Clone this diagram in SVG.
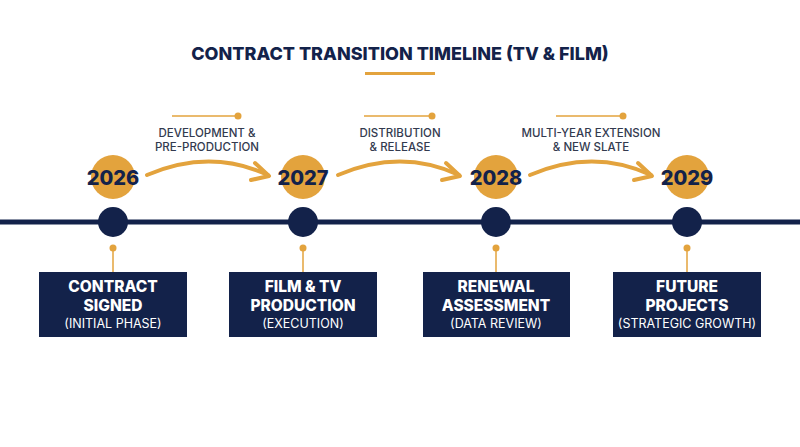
<svg xmlns="http://www.w3.org/2000/svg" width="800" height="447" viewBox="0 0 800 447">
<style>
.t{font-family:Inter,"Open Sans","Liberation Sans",sans-serif}
.title{font-size:18px;font-weight:800;fill:#13224a}
.year{font-size:20px;font-weight:800;fill:#13224a}
.lbl{font-size:11.5px;font-weight:500;fill:#333a4f}
.bt{font-size:15.5px;font-weight:800;fill:#ffffff}
.bs{font-size:12.5px;font-weight:400;fill:#ffffff}
.box{fill:#13224a}
.gold{fill:#e3a33d}
.navy{fill:#13224a}
.arc{fill:none;stroke:#e3a33d;stroke-width:4;stroke-linecap:round;stroke-linejoin:round}
.thin{stroke:#e3a33d;stroke-width:1.5}
</style>
<rect width="800" height="447" fill="#ffffff"/>
<g id="title">
<text class="t title" x="400" y="60" text-anchor="middle">CONTRACT TRANSITION TIMELINE (TV &amp; FILM)</text>
<line x1="365" y1="73.5" x2="435" y2="73.5" stroke="#e3a33d" stroke-width="3"/>
</g>
<g id="connectors">
<line x1="0" y1="222" x2="800" y2="222" stroke="#13224a" stroke-width="5"/>
<path class="arc" d="M147,175 Q210,148 268,175"/>
<path class="arc" d="M255,163 L269,176 L251,180"/>
<path class="arc" d="M338,175 Q401,148 459,175"/>
<path class="arc" d="M446,163 L460,176 L442,180"/>
<path class="arc" d="M530,175 Q593,148 651,175"/>
<path class="arc" d="M638,163 L652,176 L634,180"/>
<line class="thin" x1="113" y1="248" x2="113" y2="272"/>
<line class="thin" x1="303" y1="248" x2="303" y2="272"/>
<line class="thin" x1="496" y1="248" x2="496" y2="272"/>
<line class="thin" x1="687" y1="248" x2="687" y2="272"/>
</g>
<g id="label1">
<line class="thin" x1="172" y1="116" x2="238" y2="116"/>
<circle class="gold" cx="238" cy="116" r="3.5"/>
<text class="t lbl" x="207" y="137" text-anchor="middle">DEVELOPMENT &amp;</text>
<text class="t lbl" x="207" y="151" text-anchor="middle">PRE-PRODUCTION</text>
</g>
<g id="label2">
<line class="thin" x1="364" y1="116" x2="432" y2="116"/>
<circle class="gold" cx="432" cy="116" r="3.5"/>
<text class="t lbl" x="400" y="137" text-anchor="middle">DISTRIBUTION</text>
<text class="t lbl" x="400" y="151" text-anchor="middle">&amp; RELEASE</text>
</g>
<g id="label3">
<line class="thin" x1="556" y1="116" x2="623" y2="116"/>
<circle class="gold" cx="623" cy="116" r="3.5"/>
<text class="t lbl" x="591" y="137" text-anchor="middle">MULTI-YEAR EXTENSION</text>
<text class="t lbl" x="591" y="151" text-anchor="middle">&amp; NEW SLATE</text>
</g>
<g id="node2026">
<circle class="gold" cx="113" cy="177" r="22"/>
<text class="t year" x="113" y="184.5" text-anchor="middle">2026</text>
<circle class="navy" cx="113" cy="222" r="15"/>
<circle class="gold" cx="113" cy="248" r="3.5"/>
<rect class="box" x="39" y="272" width="148" height="65"/>
<text class="t bt" x="113" y="292" text-anchor="middle">CONTRACT</text>
<text class="t bt" x="113" y="310.5" text-anchor="middle">SIGNED</text>
<text class="t bs" x="113" y="327.5" text-anchor="middle">(INITIAL PHASE)</text>
</g>
<g id="node2027">
<circle class="gold" cx="303" cy="177" r="22"/>
<text class="t year" x="303" y="184.5" text-anchor="middle">2027</text>
<circle class="navy" cx="303" cy="222" r="15"/>
<circle class="gold" cx="303" cy="248" r="3.5"/>
<rect class="box" x="229" y="272" width="148" height="65"/>
<text class="t bt" x="303" y="292" text-anchor="middle">FILM &amp; TV</text>
<text class="t bt" x="303" y="310.5" text-anchor="middle">PRODUCTION</text>
<text class="t bs" x="303" y="327.5" text-anchor="middle">(EXECUTION)</text>
</g>
<g id="node2028">
<circle class="gold" cx="496" cy="177" r="22"/>
<text class="t year" x="496" y="184.5" text-anchor="middle">2028</text>
<circle class="navy" cx="496" cy="222" r="15"/>
<circle class="gold" cx="496" cy="248" r="3.5"/>
<rect class="box" x="423" y="272" width="147" height="65"/>
<text class="t bt" x="496" y="292" text-anchor="middle">RENEWAL</text>
<text class="t bt" x="496" y="310.5" text-anchor="middle">ASSESSMENT</text>
<text class="t bs" x="496" y="327.5" text-anchor="middle">(DATA REVIEW)</text>
</g>
<g id="node2029">
<circle class="gold" cx="687" cy="177" r="22"/>
<text class="t year" x="687" y="184.5" text-anchor="middle">2029</text>
<circle class="navy" cx="687" cy="222" r="15"/>
<circle class="gold" cx="687" cy="248" r="3.5"/>
<rect class="box" x="613" y="272" width="148" height="65"/>
<text class="t bt" x="687" y="292" text-anchor="middle">FUTURE</text>
<text class="t bt" x="687" y="310.5" text-anchor="middle">PROJECTS</text>
<text class="t bs" x="687" y="327.5" text-anchor="middle">(STRATEGIC GROWTH)</text>
</g>
</svg>
